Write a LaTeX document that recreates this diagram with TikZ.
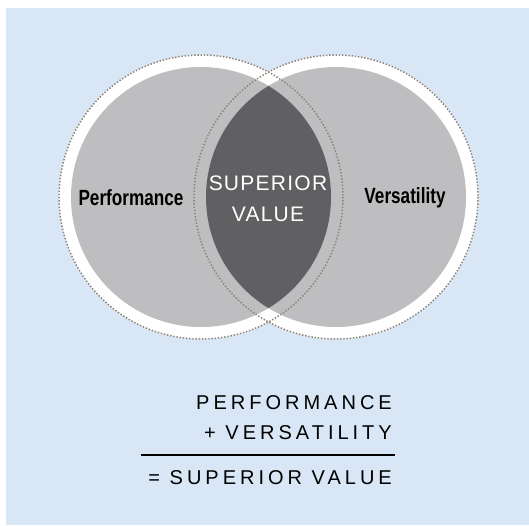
\documentclass[tikz,border=0pt]{standalone}
\usepackage{fontspec}
\setmainfont{Liberation Sans}
\newfontfamily\condfont[FakeStretch=0.78]{Liberation Sans}
\newfontfamily\capsfont[LetterSpace=6]{Liberation Sans}
\newfontfamily\sumfont[LetterSpace=20]{Liberation Sans}
\usetikzlibrary{positioning}
\definecolor{bgblue}{RGB}{216,230,246}
\definecolor{discgray}{RGB}{190,190,192}
\definecolor{lensgray}{RGB}{96,96,98}
\definecolor{rimbrown}{RGB}{140,130,116}
\tikzset{
    ring/.style = {fill=white},
    disc/.style = {fill=discgray},
    lens/.style = {fill=lensgray},
    rim/.style = {draw=rimbrown,line width=1.5pt,dash pattern=on 1.4pt off 1.8pt},
    setname/.style = {font=\condfont\bfseries\fontsize{22}{24}\selectfont},
    core/.style = {font=\capsfont\fontsize{21}{31}\selectfont,text=white,align=center},
    sumline/.style = {font=\sumfont\fontsize{20}{22}\selectfont,anchor=base east,inner sep=0}
}
\begin{document}
\begin{tikzpicture}[x=1pt,y=-1pt]
        \useasboundingbox (0,0) rectangle (529,525);
        \fill[bgblue] (6,8) rectangle (529,525);
        % Sets
        \coordinate (L) at (201,197);
        \coordinate (R) at (336,197);
        \fill[ring] (L) circle[radius=142] (R) circle[radius=142];
        \fill[disc] (L) circle[radius=130] (R) circle[radius=130];
        \begin{scope}
            \clip (L) circle[radius=130];
            \fill[lens] (R) circle[radius=130];
        \end{scope}
        \draw[rim] (L) circle[radius=142];
        \draw[rim] (R) circle[radius=142];
        % Labels
        \node[setname] (perf) at (131,198) {Performance};
        \node[setname] (vers) at (405,198) {Versatility};
        \node[core] (value) at (268,199) {SUPERIOR\\VALUE};
        % Sum
        \node[sumline] (sumA) at (392,409) {PERFORMANCE};
        \node[sumline] (sumB) at ([yshift=-30pt]sumA.base east) {+ VERSATILITY};
        \coordinate (ruleL) at (141,455);
        \coordinate (ruleR) at (395,455);
        \draw[line width=1.3pt] (ruleL) -- (ruleR);
        \node[sumline] (sumC) at ([yshift=-75pt]sumA.base east) {= SUPERIOR VALUE};
\end{tikzpicture}
\end{document}
